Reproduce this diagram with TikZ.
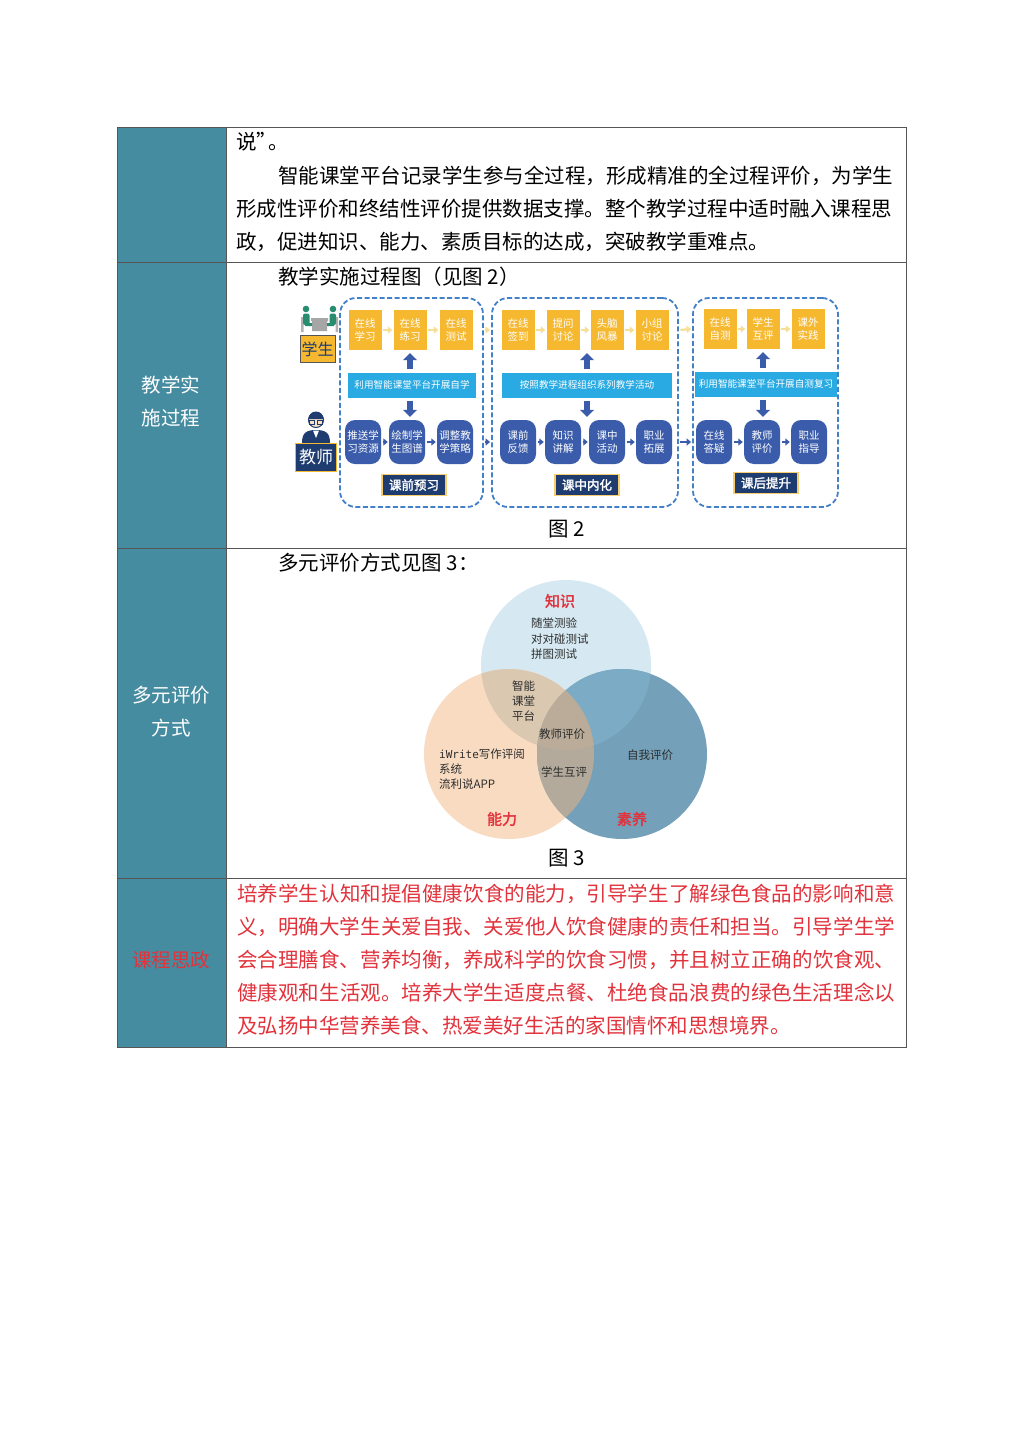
\documentclass[tikz,border=0pt]{standalone}
\usepackage{fontspec}
\setmainfont{Noto Sans CJK SC}
\newfontfamily\cjkbf[FakeBold=2]{Noto Sans CJK SC}
\newfontfamily\monof{DejaVu Sans Mono}
\XeTeXlinebreaklocale "zh"
\XeTeXlinebreakskip=0pt plus 2pt
\usetikzlibrary{arrows.meta,positioning}

\definecolor{sidecol}{RGB}{69,140,160}
\definecolor{rulecol}{RGB}{85,85,85}
\definecolor{redtxt}{RGB}{226,50,60}
\definecolor{yelbox}{RGB}{246,184,46}
\definecolor{palearr}{RGB}{246,222,150}
\definecolor{barcol}{RGB}{42,170,226}
\definecolor{bluebox}{RGB}{58,92,170}
\definecolor{navybox}{RGB}{30,60,112}
\definecolor{dashcol}{RGB}{66,128,200}
\definecolor{greenppl}{RGB}{40,140,110}
\definecolor{skin}{RGB}{250,226,200}
\definecolor{knowcol}{RGB}{214,233,242}
\definecolor{abilcol}{RGB}{248,219,193}
\definecolor{litcol}{RGB}{116,160,186}
\definecolor{kacol}{RGB}{218,200,176}
\definecolor{klcol}{RGB}{124,172,197}
\definecolor{alcol}{RGB}{180,170,156}
\definecolor{allcol}{RGB}{186,172,152}
\definecolor{ventxt}{RGB}{45,45,45}

\begin{document}
\begin{tikzpicture}[x=1pt,y=-1pt,
    body/.style={anchor=west,inner sep=0pt,text height=0.88em,text depth=0.12em,
                 font=\fontsize{20.5}{24}\selectfont},
    side/.style={inner sep=0pt,text=white,font=\fontsize{19.5}{24}\selectfont},
    panel/.style={draw=dashcol,line width=1.8pt,dash pattern=on 5pt off 2.5pt,
                  rounded corners=16pt},
    yel/.style={fill=yelbox,text=white,minimum width=33pt,minimum height=40pt,
                inner sep=0pt,align=center,font=\fontsize{10.5}{13}\selectfont},
    blu/.style={fill=bluebox,text=white,minimum width=36pt,minimum height=44pt,
                inner sep=0pt,align=center,rounded corners=10pt,
                font=\fontsize{10.5}{13}\selectfont},
    bar/.style={fill=barcol,text=white,minimum height=25pt,inner sep=0pt,
                font=\fontsize{9.6}{12}\selectfont},
    stage/.style={fill=navybox,draw=yelbox!70!white,line width=1.2pt,text=white,
                  minimum width=64pt,minimum height=21pt,inner sep=0pt,
                  font=\cjkbf\fontsize{12.5}{14}\selectfont},
    pale/.style={color=palearr,line width=2.2pt,-{Triangle[length=4.5pt,width=7pt]},
                 shorten <=1.5pt,shorten >=1pt},
    dark/.style={color=bluebox,line width=2.4pt,-{Triangle[length=4.5pt,width=7pt]},
                 shorten <=1.5pt,shorten >=1pt},
    block/.style={color=bluebox,line width=5.5pt,-{Triangle[length=7pt,width=14pt]},
                  shorten <=3pt,shorten >=3pt},
    vtxt/.style={anchor=west,inner sep=0pt,text=ventxt,font=\fontsize{11.5}{14}\selectfont},
    vhead/.style={inner sep=0pt,text=redtxt,font=\cjkbf\fontsize{15}{18}\selectfont}]

  \useasboundingbox (0,0) rectangle (1024,1448);
  \fill[white] (0,0) rectangle (1024,1448);

  % table
  \fill[sidecol] (117,127) rectangle (226,1047);
  \draw[rulecol,line width=1pt] (117,127) rectangle (906,1047)
    (226,127) -- (226,1047)
    (117,262) -- (906,262)
    (117,548) -- (906,548)
    (117,878) -- (906,878);

  % row 1
  \node[body] (r1a) at (236,146) {说”\kern-9pt。};
  \node[body] (r1b) at (278,180) {智能课堂平台记录学生参与全过程，形成精准的全过程评价，为学生};
  \node[body] (r1c) at (236,213) {形成性评价和终结性评价提供数据支撑。整个教学过程中适时融入课程思};
  \node[body] (r1d) at (236,246) {政，促进知识、能力、素质目标的达成，突破教学重难点。};

  % side labels
  \node[side] (l2a) at (171,385) {教学实};
  \node[side] (l2b) at (171,418) {施过程};
  \node[side] (l3a) at (171,695) {多元评价};
  \node[side] (l3b) at (171,728) {方式};
  \node[side,text=redtxt] (l4) at (171,960) {课程思政};

  % row 2
  \node[body] (h2) at (278,281) {教学实施过程图（见图 2）};
  \node[body,anchor=center] (c2) at (567,533) {图 2};

  % student icon
  \fill[gray!60] (301,317) rectangle (303.5,332) (335.5,317) rectangle (338,332);
  \fill[gray!70] (311,318) rectangle (328,321) (312,321) rectangle (327,331);
  \fill[greenppl] (306,309) circle (3.3pt) (333,309) circle (3.3pt);
  \fill[greenppl,rounded corners=2pt] (303,313.5) rectangle (309.5,325)
                                      (329.5,313.5) rectangle (336,325);
  \fill[greenppl] (305,323) rectangle (312,326) (327,323) rectangle (334,326);
  \node[fill=yelbox,draw=rulecol,line width=0.8pt,text=navybox,minimum width=35pt,
        minimum height=27pt,inner sep=0pt,font=\fontsize{16}{18}\selectfont] (stu) at (317.5,349) {学生};

  % teacher icon
  \fill[navybox] (302,443) .. controls (302,433) and (306,430) .. (316,430)
                 .. controls (326,430) and (330,433) .. (330,443) -- cycle;
  \fill[white] (313,430.5) -- (316,438) -- (319,430.5) -- cycle;
  \fill[skin,draw=navybox,line width=1pt] (316,420) circle (7.5pt);
  \fill[navybox] (308.5,419) arc (180:0:7.5pt) -- cycle;
  \draw[navybox,line width=0.7pt] (309.5,420.5) rectangle (314.5,424) (317.5,420.5) rectangle (322.5,424);
  \node[fill=navybox,draw=yelbox,line width=1.2pt,text=white,minimum width=41pt,
        minimum height=28pt,inner sep=0pt,font=\fontsize{17}{18}\selectfont] (tea) at (316,457.5) {教师};

  % stage panels
  \node[panel,minimum width=143pt,minimum height=209pt] (p1) at (411.5,402.5) {};
  \node[panel,minimum width=186pt,minimum height=209pt] (p2) at (585,402.5) {};
  \node[panel,minimum width=145pt,minimum height=209pt] (p3) at (765.5,402.5) {};

  \node[yel] (t11) at (365,330) {在线\\学习};
  \node[yel] (t12) at (410,330) {在线\\练习};
  \node[yel] (t13) at (456,330) {在线\\测试};
  \node[yel] (t21) at (518,330) {在线\\签到};
  \node[yel] (t22) at (563,330) {提问\\讨论};
  \node[yel] (t23) at (607,330) {头脑\\风暴};
  \node[yel] (t24) at (652,330) {小组\\讨论};
  \node[yel] (t31) at (720,329) {在线\\自测};
  \node[yel] (t32) at (763,329) {学生\\互评};
  \node[yel] (t33) at (808,329) {课外\\实践};

  \node[bar,minimum width=128pt] (bar1) at (412,385) {利用智能课堂平台开展自学};
  \node[bar,minimum width=170pt] (bar2) at (587,385) {按照教学进程组织系列教学活动};
  \node[bar,minimum width=142pt] (bar3) at (766,384) {利用智能课堂平台开展自测复习};

  \node[blu] (b11) at (363,442) {推送学\\习资源};
  \node[blu] (b12) at (407,442) {绘制学\\生图谱};
  \node[blu] (b13) at (455,442) {调整教\\学策略};
  \node[blu] (b21) at (518,442) {课前\\反馈};
  \node[blu] (b22) at (563,442) {知识\\讲解};
  \node[blu] (b23) at (607,442) {课中\\活动};
  \node[blu] (b24) at (654,442) {职业\\拓展};
  \node[blu] (b31) at (714,442) {在线\\答疑};
  \node[blu] (b32) at (762,442) {教师\\评价};
  \node[blu] (b33) at (809,442) {职业\\指导};

  \node[stage] (s1) at (414,485) {课前预习};
  \node[stage] (s2) at (587,485) {课中内化};
  \node[stage] (s3) at (766,483) {课后提升};

  \path[pale]
    (t11) edge (t12)
    (t12) edge (t13)
    (t21) edge (t22)
    (t22) edge (t23)
    (t23) edge (t24)
    (t31) edge (t32)
    (t32) edge (t33)
    (p1.east |- t13) edge (p2.west |- t21)
    (p2.east |- t24) edge (p3.west |- t31);
  \path[dark]
    (b11) edge (b12)
    (b12) edge (b13)
    (b21) edge (b22)
    (b22) edge (b23)
    (b23) edge (b24)
    (b31) edge (b32)
    (b32) edge (b33)
    (p1.east |- b13) edge (p2.west |- b21)
    (p2.east |- b24) edge (p3.west |- b31);
  \path[block]
    (t12 |- bar1.north) edge (t12.south)
    (t12 |- bar1.south) edge (t12 |- b12.north)
    (bar2.north) edge (bar2.north |- t22.south)
    (bar2.south) edge (bar2.south |- b22.north)
    (t32 |- bar3.north) edge (t32.south)
    (t32 |- bar3.south) edge (t32 |- b32.north);

  % row 3
  \node[body] (h3) at (278,567) {多元评价方式见图 3：};
  \node[body,anchor=center] (c3) at (567,862) {图 3};

  % venn
  \fill[knowcol] (566,665) circle (85pt);
  \fill[abilcol] (509,754) circle (85pt);
  \fill[litcol] (622,754) circle (85pt);
  \begin{scope}
    \clip (566,665) circle (85pt);
    \fill[kacol] (509,754) circle (85pt);
    \fill[klcol] (622,754) circle (85pt);
  \end{scope}
  \begin{scope}
    \clip (509,754) circle (85pt);
    \fill[alcol] (622,754) circle (85pt);
    \clip (566,665) circle (85pt);
    \fill[allcol] (622,754) circle (85pt);
  \end{scope}

  \node[vhead] (kn) at (560,601) {知识};
  \node[vtxt] (k1) at (531,623) {随堂测验};
  \node[vtxt] (k2) at (531,639) {对对碰测试};
  \node[vtxt] (k3) at (531,654) {拼图测试};
  \node[vtxt] (ka1) at (512,686) {智能};
  \node[vtxt] (ka2) at (512,701) {课堂};
  \node[vtxt] (ka3) at (512,716) {平台};
  \node[vtxt] (kal) at (539,734) {教师评价};
  \node[vtxt] (a1) at (439,754) {{\monof\fontsize{11}{14}\selectfont iWrite}写作评阅};
  \node[vtxt] (a2) at (439,769) {系统};
  \node[vtxt] (a3) at (439,784) {流利说APP};
  \node[vtxt] (al) at (541,772) {学生互评};
  \node[vtxt] (li1) at (627,755) {自我评价};
  \node[vhead] (ab) at (502,819) {能力};
  \node[vhead] (lt) at (632,819) {素养};

  % row 4
  \node[anchor=north west,text width=658pt,align=justify,inner sep=0pt,text=redtxt,
        font=\fontsize{20.5}{33}\selectfont] (r4) at (237,883.5)
    {培养学生认知和提倡健康饮食的能力，引导学生了解绿色食品的影响和意\linebreak
     义，明确大学生关爱自我、关爱他人饮食健康的责任和担当。引导学生学\linebreak
     会合理膳食、营养均衡，养成科学的饮食习惯，并且树立正确的饮食观、\linebreak
     健康观和生活观。培养大学生适度点餐、杜绝食品浪费的绿色生活理念以\linebreak
     及弘扬中华营养美食、热爱美好生活的家国情怀和思想境界。};
\end{tikzpicture}
\end{document}
